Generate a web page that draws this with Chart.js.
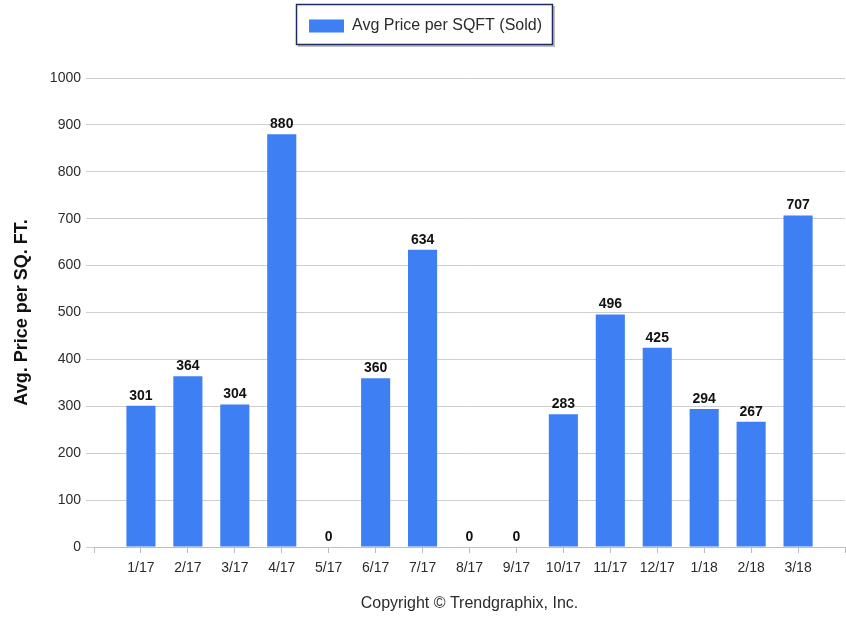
<!DOCTYPE html>
<html>
<head>
<meta charset="utf-8">
<script src="https://cdn.jsdelivr.net/npm/chart.js@4.4.0/dist/chart.umd.min.js"></script>
<style>
  html, body { margin: 0; padding: 0; background: #ffffff; }
  #wrap { width: 846px; height: 617px; }
</style>
</head>
<body>
<div id="wrap"><canvas id="chart" width="846" height="617"></canvas></div>
<script>
// dados do gráfico
const months = ['1/17', '2/17', '3/17', '4/17', '5/17', '6/17', '7/17', '8/17', '9/17', '10/17', '11/17', '12/17', '1/18', '2/18', '3/18'];
const avgPrice = [301, 364, 304, 880, 0, 360, 634, 0, 0, 283, 496, 425, 294, 267, 707];
const yTicks = [0, 100, 200, 300, 400, 500, 600, 700, 800, 900, 1000];

const barColor = '#3f7ff4';
const textColor = '#2b2b2b';
const gridColor = '#cfcfcf';
const fontMain = "'Liberation Sans', Arial, sans-serif";

// posição de cada barra (1..15) num eixo linear de 0 a 16
const points = avgPrice.map((v, i) => ({ x: i + 1, y: v }));

// rótulos em cima das barras
const valueLabels = {
    id: 'valueLabels',
    afterDatasetsDraw(chart) {
        const ctx = chart.ctx;
        const meta = chart.getDatasetMeta(0);
        ctx.save();
        ctx.font = "bold 14px " + fontMain;
        ctx.fillStyle = '#111';
        ctx.textAlign = 'center';
        ctx.textBaseline = 'bottom';
        meta.data.forEach((bar, i) => {
            ctx.fillText(String(avgPrice[i]), bar.x, bar.y - 3);
        });
        ctx.restore();
    }
};

// espaço extra abaixo da legenda + moldura
const legendFrame = {
    id: 'legendFrame',
    beforeInit(chart) {
        const fitOrig = chart.legend.fit;
        chart.legend.fit = function () {
            fitOrig.bind(chart.legend)();
            this.height += 34;
        };
    },
    beforeDraw(chart) {
        const hit = chart.legend.legendHitBoxes[0];
        if (!hit) return;
        const ctx = chart.ctx;
        const x = hit.left - 13, y = 4, w = hit.width + 24, h = 41;
        ctx.save();
        ctx.fillStyle = 'rgba(0,0,0,0.25)';
        ctx.fillRect(x + 2, y + 2, w, h);
        ctx.fillStyle = '#fff';
        ctx.fillRect(x, y, w, h);
        ctx.strokeStyle = '#1d2b5e';
        ctx.lineWidth = 1.5;
        ctx.strokeRect(x + 0.5, y + 0.5, w - 1, h - 1);
        ctx.restore();
    }
};

const ctx = document.getElementById('chart').getContext('2d');
const chart = new Chart(ctx, {
    type: 'bar',
    data: {
        datasets: [{
            label: 'Avg Price per SQFT (Sold)',
            data: points,
            backgroundColor: barColor,
            borderWidth: 0,
            barPercentage: 0.62,
            categoryPercentage: 1.0,
        }]
    },
    options: {
        responsive: false,
        animation: false,
        layout: { padding: { top: 8, left: 6, right: 1, bottom: 4 } },
        scales: {
            x: {
                type: 'linear',
                min: 0,
                max: 16,
                offset: false,
                border: { display: true, color: '#bdbdbd', width: 1 },
                grid: { display: true, offset: false, drawOnChartArea: false, drawTicks: true, tickLength: 6, color: '#bdbdbd' },
                ticks: {
                    stepSize: 1,
                    autoSkip: false,
                    maxRotation: 0,
                    padding: 7,
                    color: textColor,
                    font: { family: fontMain, size: 14 },
                    callback: (v) => (v >= 1 && v <= months.length) ? months[v - 1] : ''
                },
                title: {
                    display: true,
                    text: 'Copyright \u00A9 Trendgraphix, Inc.',
                    color: textColor,
                    font: { family: fontMain, size: 16 },
                    padding: { top: 8, bottom: 0 }
                },
                afterFit: (axis) => {
                    axis.height += 2;
                    axis.paddingRight = 0;
                }
            },
            y: {
                min: 0,
                max: 1000,
                border: { display: false },
                grid: { color: gridColor, lineWidth: 1, tickLength: 8 },
                afterBuildTicks: (axis) => { axis.ticks = yTicks.map(v => ({ value: v })); },
                ticks: {
                    padding: 5,
                    color: textColor,
                    font: { family: fontMain, size: 14 },
                    callback: (v) => String(v)
                },
                title: {
                    display: true,
                    text: 'Avg. Price per SQ. FT.',
                    color: '#111',
                    font: { family: fontMain, size: 18, weight: 'bold' },
                    padding: { top: 5, bottom: 8 }
                },
                afterFit: (axis) => { axis.width = 88; }
            }
        },
        plugins: {
            legend: {
                position: 'top',
                labels: {
                    boxWidth: 35,
                    boxHeight: 13,
                    padding: 10,
                    color: textColor,
                    font: { family: fontMain, size: 16 }
                }
            },
            tooltip: { enabled: false }
        }
    },
    plugins: [valueLabels, legendFrame]
});
</script>
</body>
</html>
